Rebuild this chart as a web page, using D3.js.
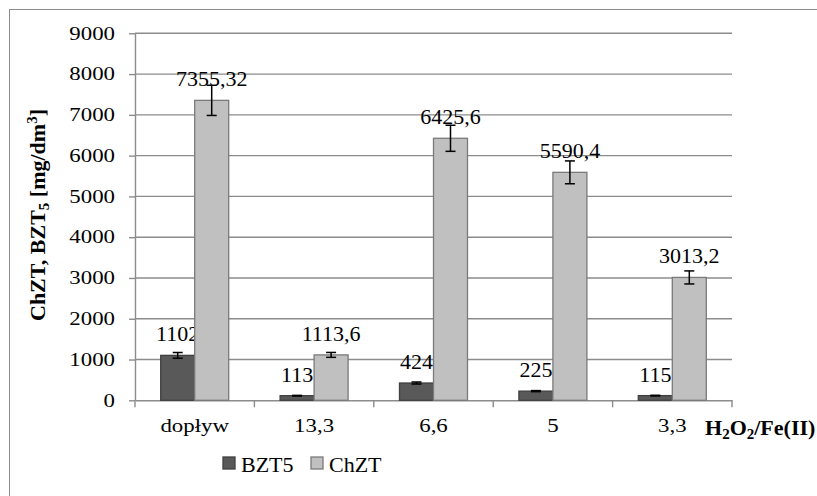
<!DOCTYPE html>
<html>
<head>
<meta charset="utf-8">
<script src="https://cdn.jsdelivr.net/npm/d3@7"></script>
<style>
  body { margin: 0; background: #fff; }
  svg text { font-family: "Liberation Serif", "Times New Roman", serif; fill: #000; }
</style>
</head>
<body>
<svg id="chart" width="817" height="496"></svg>
<script>
var categories = ["dopływ", "13,3", "6,6", "5", "3,3"];
var seriesNames = ["BZT5", "ChZT"];
var bzt5 = [1102, 113, 424, 225, 115];
var chzt = [7355.32, 1113.6, 6425.6, 5590.4, 3013.2];
var bzt5Err = [70, 8, 25, 13, 8];
var chztErr = [370, 60, 320, 280, 160];
var bzt5Labels = ["1102", "113", "424", "225", "115"];
var chztLabels = ["7355,32", "1113,6", "6425,6", "5590,4", "3013,2"];
var yTicks = [0, 1000, 2000, 3000, 4000, 5000, 6000, 7000, 8000, 9000];

var colors = {BZT5: "#595959", ChZT: "#c0c0c0"};
var strokes = {BZT5: "#404040", ChZT: "#7a7a7a"};
var stretch = 1.27; // tick labels look horizontally stretched in the original

var plot = {left: 135, right: 732, top: 33.3, bottom: 400.3};

var svg = d3.select("#chart");

// outer frame
svg.append("rect")
    .attr("x", 9.5).attr("y", 9.5)
    .attr("width", 900).attr("height", 600)
    .attr("fill", "none")
    .attr("stroke", "#8c8c8c")
    .attr("stroke-width", 1);

var x0 = d3.scaleBand()
    .domain(categories)
    .range([plot.left, plot.right])
    .padding(0);

var x1 = d3.scaleBand()
    .domain(seriesNames)
    .range([0, x0.bandwidth()])
    .paddingInner(0)
    .paddingOuter(0.756);

var y = d3.scaleLinear()
    .domain([0, 9000])
    .range([plot.bottom, plot.top]);

// gridlines
svg.append("g")
    .selectAll("line")
    .data(yTicks.filter(function(d) { return d > 0; }))
    .enter().append("line")
    .attr("x1", plot.left).attr("x2", plot.right)
    .attr("y1", function(d) { return y(d); })
    .attr("y2", function(d) { return y(d); })
    .attr("stroke", "#8c8c8c")
    .attr("stroke-width", 1.4);

// y axis
var yAxis = svg.append("g")
    .attr("transform", "translate(" + plot.left + ",0)")
    .call(d3.axisLeft(y).tickValues(yTicks).tickFormat(d3.format("d"))
        .tickSize(6).tickSizeOuter(0).tickPadding(14));
yAxis.select(".domain").attr("stroke", "#8c8c8c").attr("stroke-width", 1.4);
yAxis.selectAll(".tick line").attr("stroke", "#8c8c8c").attr("stroke-width", 1.4);
yAxis.selectAll(".tick text")
    .attr("font-size", 18)
    .attr("x", -20 / stretch)
    .attr("transform", "scale(" + stretch + ",1)");

// x axis
var xAxis = svg.append("g")
    .attr("transform", "translate(0," + plot.bottom + ")")
    .call(d3.axisBottom(x0).tickSize(0).tickSizeOuter(0).tickPadding(19));
xAxis.select(".domain").attr("stroke", "#8c8c8c").attr("stroke-width", 1.4);
xAxis.selectAll(".tick text")
    .attr("font-size", 18)
    .attr("transform", "scale(" + stretch + ",1)");

// category boundary ticks
var bounds = categories.map(function(c) { return x0(c); }).concat([plot.right]);
xAxis.selectAll(".bound")
    .data(bounds)
    .enter().append("line")
    .attr("class", "bound")
    .attr("x1", function(d) { return d; }).attr("x2", function(d) { return d; })
    .attr("y1", 0).attr("y2", 7)
    .attr("stroke", "#8c8c8c")
    .attr("stroke-width", 1.4);

// bars
var rows = categories.map(function(c, i) {
    return {cat: c, vals: [
        {s: "BZT5", v: bzt5[i], e: bzt5Err[i], lab: bzt5Labels[i]},
        {s: "ChZT", v: chzt[i], e: chztErr[i], lab: chztLabels[i]}
    ]};
});

var groups = svg.append("g").selectAll("g")
    .data(rows)
    .enter().append("g")
    .attr("transform", function(d) { return "translate(" + x0(d.cat) + ",0)"; });

var items = groups.selectAll(".item")
    .data(function(d) { return d.vals; })
    .enter().append("g")
    .attr("class", "item");

items.append("rect")
    .attr("x", function(d) { return x1(d.s); })
    .attr("y", function(d) { return y(d.v); })
    .attr("width", x1.bandwidth())
    .attr("height", function(d) { return y(0) - y(d.v); })
    .attr("fill", function(d) { return colors[d.s]; })
    .attr("stroke", function(d) { return strokes[d.s]; })
    .attr("stroke-width", 1.3);

// error bars
var cap = 5;
items.each(function(d) {
    var g = d3.select(this);
    var cx = x1(d.s) + x1.bandwidth() / 2;
    var yt = y(d.v + d.e), yb = y(d.v - d.e);
    g.append("line").attr("x1", cx).attr("x2", cx).attr("y1", yt).attr("y2", yb)
        .attr("stroke", "#000").attr("stroke-width", 1.5);
    g.append("line").attr("x1", cx - cap).attr("x2", cx + cap).attr("y1", yt).attr("y2", yt)
        .attr("stroke", "#000").attr("stroke-width", 1.5);
    g.append("line").attr("x1", cx - cap).attr("x2", cx + cap).attr("y1", yb).attr("y2", yb)
        .attr("stroke", "#000").attr("stroke-width", 1.5);
});

// value labels
items.append("text")
    .attr("x", function(d) { return x1(d.s) + x1.bandwidth() / 2; })
    .attr("y", function(d) { return y(d.v) - 14; })
    .attr("text-anchor", "middle")
    .attr("font-size", 22)
    .text(function(d) { return d.lab; });

// y axis title
var yt = svg.append("text")
    .attr("transform", "translate(45,215) rotate(-90)")
    .attr("text-anchor", "middle")
    .attr("font-size", 22)
    .attr("font-weight", "bold");
yt.append("tspan").text("ChZT, BZT");
yt.append("tspan").attr("font-size", 15).attr("dy", 4).text("5");
yt.append("tspan").attr("dy", -4).text(" [mg/dm");
yt.append("tspan").attr("font-size", 15).attr("dy", -8).text("3");
yt.append("tspan").attr("dy", 8).text("]");

// x axis title
var xt = svg.append("text")
    .attr("x", 705).attr("y", 435)
    .attr("font-size", 22)
    .attr("font-weight", "bold");
xt.append("tspan").text("H");
xt.append("tspan").attr("font-size", 15).attr("dy", 4).text("2");
xt.append("tspan").attr("dy", -4).text("O");
xt.append("tspan").attr("font-size", 15).attr("dy", 4).text("2");
xt.append("tspan").attr("dy", -4).text("/Fe(II)");

// legend
var legendX = [223, 311];
var legend = svg.append("g").selectAll("g")
    .data(seriesNames)
    .enter().append("g")
    .attr("transform", function(d, i) { return "translate(" + legendX[i] + ",457)"; });
legend.append("rect")
    .attr("width", 12).attr("height", 12)
    .attr("fill", function(d) { return colors[d]; })
    .attr("stroke", function(d) { return strokes[d]; })
    .attr("stroke-width", 1.3);
legend.append("text")
    .attr("x", 18).attr("y", 14.5)
    .attr("font-size", 22)
    .text(function(d) { return d; });
</script>
</body>
</html>
